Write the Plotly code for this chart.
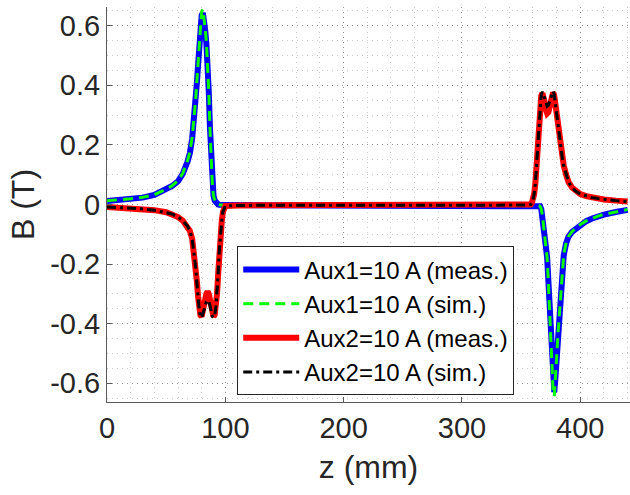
import plotly.graph_objects as go

# Position along z (mm)
z_mm = [0, 10, 20, 30, 40, 50, 55, 60, 64, 68,
        70, 72, 74, 75, 76, 77, 78, 79, 80, 81,
        82, 83, 84, 85, 86, 87, 88, 89, 90, 91,
        92, 93, 94, 95, 96, 97, 98, 99, 100, 110,
        150, 200, 250, 300, 350,
        355, 358, 359, 360, 361, 362, 363, 364, 365, 366,
        367, 368, 369, 370, 371, 372, 373, 374, 375, 376,
        377, 378, 379, 380, 381, 382, 383, 384, 385, 386,
        388, 390, 393, 396, 400, 405, 410, 415, 420, 430,
        440]

# Aux1 = 10 A, measured (T)
aux1_meas = [0.012, 0.014, 0.018, 0.023, 0.032, 0.050, 0.062, 0.078, 0.103, 0.143,
             0.172, 0.222, 0.300, 0.350, 0.410, 0.470, 0.540, 0.600, 0.635, 0.643,
             0.620, 0.585, 0.540, 0.480, 0.380, 0.260, 0.140, 0.070, 0.030, 0.013,
             0.006, 0.002, 0.000, -0.001, -0.002, -0.002, -0.002, -0.002, -0.002, -0.002,
             -0.002, -0.002, -0.002, -0.002, -0.002,
             -0.002, -0.002, -0.002, -0.002, -0.002, -0.002, -0.002, -0.003, -0.004, -0.006,
             -0.015, -0.040, -0.075, -0.110, -0.145, -0.180, -0.260, -0.340, -0.420, -0.520,
             -0.615, -0.630, -0.580, -0.510, -0.440, -0.380, -0.320, -0.260, -0.210, -0.170,
             -0.130, -0.108, -0.092, -0.082, -0.068, -0.056, -0.047, -0.040, -0.034, -0.025,
             -0.018]

# Aux1 = 10 A, simulated (T)
aux1_sim = [0.013, 0.015, 0.019, 0.024, 0.033, 0.051, 0.063, 0.080, 0.105, 0.146,
            0.176, 0.226, 0.305, 0.356, 0.418, 0.480, 0.550, 0.612, 0.648, 0.655,
            0.630, 0.592, 0.545, 0.482, 0.380, 0.258, 0.138, 0.068, 0.029, 0.012,
            0.005, 0.002, 0.000, -0.001, -0.002, -0.002, -0.002, -0.002, -0.002, -0.002,
            -0.002, -0.002, -0.002, -0.002, -0.002,
            -0.002, -0.002, -0.002, -0.002, -0.002, -0.002, -0.002, -0.003, -0.004, -0.006,
            -0.014, -0.038, -0.073, -0.108, -0.143, -0.180, -0.262, -0.345, -0.428, -0.530,
            -0.625, -0.643, -0.590, -0.515, -0.442, -0.380, -0.318, -0.258, -0.208, -0.168,
            -0.128, -0.107, -0.091, -0.081, -0.067, -0.055, -0.046, -0.039, -0.033, -0.024,
            -0.017]

# Aux2 = 10 A, measured (T)
aux2_meas = [-0.008, -0.010, -0.012, -0.015, -0.019, -0.026, -0.032, -0.042, -0.054, -0.072,
             -0.088, -0.115, -0.170, -0.210, -0.260, -0.310, -0.350, -0.372, -0.376, -0.362,
             -0.340, -0.318, -0.300, -0.292, -0.300, -0.320, -0.350, -0.370, -0.376, -0.370,
             -0.345, -0.300, -0.230, -0.155, -0.100, -0.055, -0.025, -0.010, -0.005, -0.003,
             -0.003, -0.003, -0.003, -0.003, -0.003,
             -0.002, 0.000, 0.005, 0.015, 0.035, 0.070, 0.130, 0.200, 0.270, 0.330,
             0.365, 0.374, 0.362, 0.340, 0.318, 0.306, 0.310, 0.330, 0.355, 0.370,
             0.376, 0.365, 0.335, 0.295, 0.255, 0.225, 0.198, 0.172, 0.150, 0.130,
             0.100, 0.076, 0.057, 0.045, 0.035, 0.028, 0.023, 0.020, 0.017, 0.013,
             0.010]

# Aux2 = 10 A, simulated (T)
aux2_sim = [-0.008, -0.010, -0.012, -0.015, -0.019, -0.026, -0.032, -0.042, -0.054, -0.072,
            -0.088, -0.116, -0.172, -0.214, -0.265, -0.315, -0.356, -0.378, -0.380, -0.368,
            -0.352, -0.336, -0.326, -0.322, -0.326, -0.338, -0.360, -0.376, -0.380, -0.372,
            -0.346, -0.300, -0.228, -0.152, -0.098, -0.054, -0.024, -0.010, -0.005, -0.003,
            -0.003, -0.003, -0.003, -0.003, -0.003,
            -0.002, 0.000, 0.005, 0.015, 0.035, 0.070, 0.130, 0.202, 0.275, 0.336,
            0.370, 0.378, 0.370, 0.354, 0.338, 0.330, 0.333, 0.345, 0.362, 0.374,
            0.380, 0.368, 0.337, 0.296, 0.256, 0.225, 0.198, 0.172, 0.150, 0.130,
            0.100, 0.076, 0.057, 0.045, 0.035, 0.028, 0.023, 0.020, 0.017, 0.013,
            0.010]

series_names = ["Aux1=10 A (meas.)", "Aux1=10 A (sim.)",
                "Aux2=10 A (meas.)", "Aux2=10 A (sim.)"]

x_tick_vals = [0, 100, 200, 300, 400]
x_tick_text = ["0", "100", "200", "300", "400"]
y_tick_vals = [-0.6, -0.4, -0.2, 0, 0.2, 0.4, 0.6]
y_tick_text = ["-0.6", "-0.4", "-0.2", "0", "0.2", "0.4", "0.6"]

FONT = "Liberation Sans, Arial, Helvetica, sans-serif"
TXT = "#262626"
AX = "rgb(90,90,90)"
GRID = "rgba(0,0,0,0.28)"
MINOR = "rgba(0,0,0,0.2)"
DOTS = "1px,4px"

fig = go.Figure()
styles = [
    dict(color="#0000FF", width=6),
    dict(color="#00FF00", width=3, dash="10px,6px"),
    dict(color="#FF0000", width=6),
    dict(color="#000000", width=3, dash="9px,4px,3px,4px"),
]
for name, yv, st in zip(series_names, [aux1_meas, aux1_sim, aux2_meas, aux2_sim], styles):
    fig.add_trace(go.Scatter(x=z_mm, y=yv, mode="lines", name=name, line=st))

fig.update_layout(
    width=630, height=495,
    margin=dict(l=107, r=0, t=7, b=93, autoexpand=False),
    paper_bgcolor="white", plot_bgcolor="white",
    font=dict(family=FONT, color=TXT, size=29),
    showlegend=True,
    legend=dict(
        x=0.249, y=0.394, xanchor="left", yanchor="top",
        bgcolor="white", bordercolor=TXT, borderwidth=1,
        font=dict(family=FONT, size=24, color="black"),
        itemwidth=56, tracegroupgap=0,
    ),
)
fig.update_xaxes(
    range=[0, 442], tickvals=x_tick_vals, ticktext=x_tick_text,
    ticks="inside", ticklen=5, tickcolor=AX, tickwidth=1,
    showline=True, linecolor=AX, linewidth=1, mirror=False,
    showgrid=True, gridcolor=GRID, griddash=DOTS, gridwidth=1,
    minor=dict(dtick=20, tick0=0, showgrid=True, gridcolor=MINOR, griddash=DOTS, gridwidth=1),
    zeroline=False, automargin=False,
    tickfont=dict(size=29, color=TXT, family=FONT),
    title=dict(text="z (mm)", font=dict(size=32, color=TXT, family=FONT), standoff=12),
)
fig.update_yaxes(
    range=[-0.663, 0.663], tickvals=y_tick_vals, ticktext=y_tick_text,
    ticks="inside", ticklen=5, tickcolor=AX, tickwidth=1,
    showline=True, linecolor=AX, linewidth=1, mirror=False,
    showgrid=True, gridcolor=GRID, griddash=DOTS, gridwidth=1,
    minor=dict(dtick=0.05, tick0=0, showgrid=True, gridcolor=MINOR, griddash=DOTS, gridwidth=1),
    zeroline=False, automargin=False,
    tickfont=dict(size=29, color=TXT, family=FONT),
    title=dict(text="B (T)", font=dict(size=32, color=TXT, family=FONT), standoff=6),
)

fig.write_html("out.html")
